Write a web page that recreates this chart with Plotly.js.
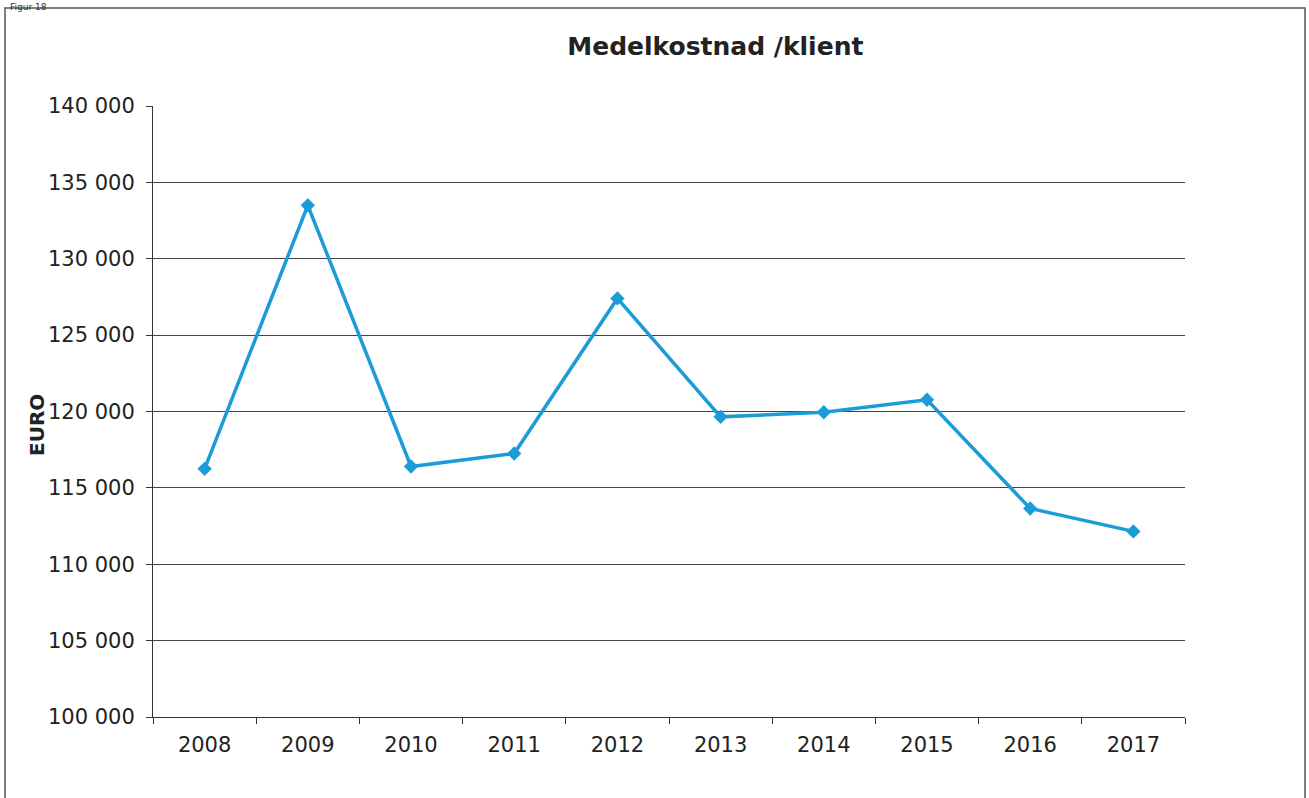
<!DOCTYPE html>
<html>
<head>
<meta charset="utf-8">
<script src="https://cdn.plot.ly/plotly-3.0.1.min.js"></script>
<style>
html,body{margin:0;padding:0;background:#fff;overflow:hidden;}
#chart{width:1309px;height:798px;}
</style>
</head>
<body>
<div id="chart"></div>
<script>
const years = ["2008","2009","2010","2011","2012","2013","2014","2015","2016","2017"];
const costPerClient = [116250, 133500, 116400, 117250, 127400, 119650, 119950, 120770, 113650, 112150];
const yTickValues = [100000,105000,110000,115000,120000,125000,130000,135000,140000];
const yTickLabels = ["100 000","105 000","110 000","115 000","120 000","125 000","130 000","135 000","140 000"];

const FONT = "Verdana, 'DejaVu Sans', sans-serif";

const trace = {
  x: years,
  y: costPerClient,
  type: "scatter",
  mode: "lines+markers",
  line: {color: "#1b9bd7", width: 3.5},
  marker: {symbol: "diamond", size: 11, color: "#1b9bd7"},
  hoverinfo: "x+y"
};

const layout = {
  width: 1309, height: 798,
  margin: {l: 153, r: 124, t: 106, b: 81},
  paper_bgcolor: "#fff", plot_bgcolor: "#fff",
  showlegend: false,
  font: {family: FONT, color: "#222", size: 21},
  title: {
    text: "<b>Medelkostnad /klient</b>",
    font: {family: FONT, size: 25, color: "#222"},
    x: 0.5465, xanchor: "center", y: 0.942, yanchor: "middle"
  },
  xaxis: {
    type: "category",
    range: [-0.5, 9.5],
    tickson: "boundaries",
    ticks: "outside", ticklen: 6, tickcolor: "#333", tickwidth: 1,
    ticklabelstandoff: 9,
    showline: true, linecolor: "#333", linewidth: 1,
    showgrid: false, zeroline: false,
    tickfont: {family: FONT, size: 21, color: "#222"}
  },
  yaxis: {
    range: [100000, 140000],
    tickvals: yTickValues, ticktext: yTickLabels,
    ticks: "outside", ticklen: 6, tickcolor: "#333", tickwidth: 1,
    ticklabelstandoff: 7,
    showline: true, linecolor: "#333", linewidth: 1,
    showgrid: true, gridcolor: "#444", gridwidth: 1,
    zeroline: false,
    tickfont: {family: FONT, size: 21, color: "#222"}
  },
  annotations: [
    {
      text: "<b>EURO</b>", textangle: -90,
      xref: "paper", yref: "paper",
      x: (37 - 153) / 1032, y: (717 - 425) / 611,
      xanchor: "center", yanchor: "middle", showarrow: false,
      font: {family: FONT, size: 20, color: "#222"}
    },
    {
      text: "Figur 18",
      xref: "paper", yref: "paper",
      x: (8 - 153) / 1032, y: (717 - 0) / 611,
      xanchor: "left", yanchor: "top", showarrow: false,
      font: {family: FONT, size: 9, color: "#333"}
    }
  ],
  shapes: [
    {
      type: "rect", xref: "paper", yref: "paper",
      x0: (5 - 153) / 1032, x1: (1305 - 153) / 1032,
      y0: (717 - 805) / 611, y1: (717 - 8) / 611,
      line: {color: "#555", width: 1.5}, fillcolor: "rgba(0,0,0,0)", layer: "below"
    }
  ]
};

Plotly.newPlot("chart", [trace], layout, {displayModeBar: false, staticPlot: true});
</script>
</body>
</html>
